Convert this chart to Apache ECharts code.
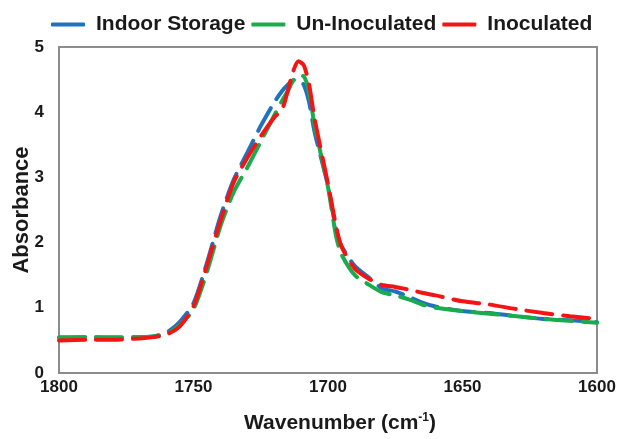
<!DOCTYPE html>
<html>
<head>
<meta charset="utf-8">
<script src="https://cdn.jsdelivr.net/npm/echarts@6/dist/echarts.min.js"></script>
<style>
  html, body { margin: 0; padding: 0; background: #ffffff; }
  #chart { width: 627px; height: 439px; }
</style>
</head>
<body>
<div id="chart"></div>
<script>
// FTIR carbonyl band: wavenumber (cm-1) and absorbance for each sample
const wavenumbers = [1800, 1790, 1780, 1770, 1765, 1760, 1755, 1750, 1745, 1740, 1735, 1730, 1725, 1720, 1717, 1715, 1713, 1711, 1709, 1707, 1705, 1700, 1697, 1695, 1690, 1685, 1680, 1675, 1670, 1665, 1660, 1650, 1640, 1630, 1620, 1610, 1600];
const indoorStorage = [0.54, 0.55, 0.54, 0.55, 0.56, 0.62, 0.79, 1.07, 1.69, 2.40, 2.97, 3.38, 3.79, 4.15, 4.33, 4.42, 4.49, 4.50, 4.42, 4.15, 3.70, 2.87, 2.20, 1.95, 1.64, 1.47, 1.30, 1.25, 1.17, 1.08, 1.02, 0.95, 0.92, 0.87, 0.83, 0.81, 0.78];
const unInoculated = [0.55, 0.55, 0.55, 0.55, 0.56, 0.60, 0.74, 0.98, 1.55, 2.25, 2.78, 3.15, 3.55, 3.95, 4.18, 4.32, 4.48, 4.56, 4.55, 4.30, 3.80, 2.85, 2.10, 1.82, 1.50, 1.36, 1.24, 1.19, 1.13, 1.05, 1.00, 0.95, 0.91, 0.87, 0.83, 0.80, 0.77];
const inoculated = [0.50, 0.51, 0.51, 0.53, 0.55, 0.59, 0.72, 1.02, 1.65, 2.33, 2.93, 3.30, 3.63, 3.92, 4.05, 4.32, 4.62, 4.78, 4.72, 4.42, 3.90, 2.90, 2.25, 1.94, 1.60, 1.45, 1.35, 1.32, 1.28, 1.23, 1.19, 1.10, 1.05, 0.98, 0.92, 0.87, 0.83];

const seriesNames = ['Indoor Storage', 'Un-Inoculated', 'Inoculated'];
const seriesValues = [indoorStorage, unInoculated, inoculated];
const seriesColors = ['#1f72c0', '#1bab4f', '#f41414'];

const pairs = (ys) => wavenumbers.map((x, i) => [x, ys[i]]);

const chart = echarts.init(document.getElementById('chart'), null, { renderer: 'canvas' });

chart.setOption({
  backgroundColor: '#ffffff',
  animation: false,
  textStyle: { fontFamily: 'Liberation Sans, Arial, sans-serif' },
  legend: {
    top: 9,
    left: 46,
    icon: 'roundRect',
    itemWidth: 34,
    itemHeight: 4,
    itemGap: 6,
    textStyle: {
      fontSize: 21,
      fontWeight: 'bold',
      color: '#1a1a1a',
      padding: [0, 0, 0, 6]
    },
    data: seriesNames
  },
  grid: {
    left: 59,
    right: 30,
    top: 47,
    bottom: 66,
    show: true,
    borderColor: '#8c8c8c',
    borderWidth: 2,
    containLabel: false
  },
  xAxis: {
    type: 'value',
    inverse: true,
    min: 1600,
    max: 1800,
    interval: 50,
    axisLine: { show: true, lineStyle: { color: '#8c8c8c', width: 2 } },
    axisTick: { show: false },
    splitLine: { show: false },
    axisLabel: {
      fontSize: 17,
      fontWeight: 'bold',
      color: '#1a1a1a',
      margin: 6,
      hideOverlap: false,
      alignMinLabel: 'center',
      alignMaxLabel: 'center',
      formatter: (v) => String(v)
    },
    name: '{n|Wavenumber (cm}{s|-1}{n|)}',
    nameLocation: 'middle',
    nameGap: 39,
    nameMoveOverlap: false,
    nameTextStyle: {
      padding: [0, 0, 0, 24],
      rich: {
        n: { fontSize: 21, fontWeight: 'bold', color: '#1a1a1a' },
        s: { fontSize: 12, fontWeight: 'bold', color: '#1a1a1a', verticalAlign: 'top', padding: [0, 0, 10, 0] }
      }
    }
  },
  yAxis: {
    type: 'value',
    min: 0,
    max: 5,
    interval: 1,
    axisLine: { show: true, lineStyle: { color: '#8c8c8c', width: 2 } },
    axisTick: { show: false },
    splitLine: { show: false },
    axisLabel: { fontSize: 17, fontWeight: 'bold', color: '#1a1a1a', margin: 15 },
    name: 'Absorbance',
    nameLocation: 'middle',
    nameGap: 26,
    nameMoveOverlap: false,
    nameTextStyle: { fontSize: 22, fontWeight: 'bold', color: '#1a1a1a' }
  },
  series: seriesNames.map((name, k) => ({
    name: name,
    type: 'line',
    data: pairs(seriesValues[k]),
    symbol: 'none',
    smooth: 0.25,
    color: seriesColors[k],
    lineStyle: { color: seriesColors[k], width: 4, type: [26, 11], cap: 'round' },
    z: 2 + k
  }))
});
</script>
</body>
</html>
